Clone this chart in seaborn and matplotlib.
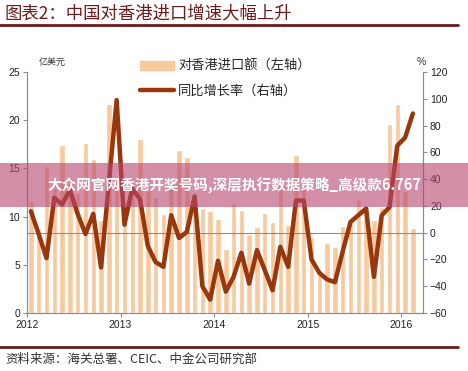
import matplotlib
matplotlib.use('Agg')
import matplotlib.pyplot as plt
import pandas as pd
import seaborn as sns
from matplotlib.lines import Line2D
from matplotlib.patches import Patch, Rectangle

# Monthly data, Jan 2012 - Feb 2016
month_idx = list(range(50))
imports = [11.6, 8.8, 15.2, 13.0, 17.4, 13.5, 12.5, 17.6, 16.0, 9.6, 21.7, 14.0,
           11.0, 12.5, 18.0, 12.8, 12.0, 10.3, 13.5, 16.9, 16.2, 12.5, 10.9, 10.6,
           9.7, 6.6, 11.4, 10.7, 8.2, 8.9, 10.4, 9.4, 13.5, 9.1, 16.4, 13.0,
           7.9, 4.5, 7.3, 6.8, 9.0, 9.4, 11.8, 10.9, 9.6, 11.0, 19.6, 21.7,
           12.7, 8.8]
growth = [16, -1, -19, 26, 21, 32, 14, -1, 14, -26, 37, 99,
          6, 33, 25, -10, -22, -25.5, 13, -4, 0.5, 27, -40, -50,
          -21, -44, -33, -15, -38, -13, -28, -43, -10.5, -25.5, 24, 24,
          -20, -30, -35, -37, -14, 8, 13, 18, -33, 13, 19, 65,
          71, 89]
year_labels = ['2012', '2013', '2014', '2015', '2016']

df = pd.DataFrame({'month': month_idx, 'imports': imports, 'growth': growth})

bar_color = '#F8C99C'
line_color = '#99360C'
grid_gray = '#8c8c8c'
dark_red = '#6e1a1a'

sns.set_style('ticks')
plt.rcParams['font.family'] = ['Liberation Sans', 'Noto Sans CJK SC']
cjk = ['Noto Sans CJK SC', 'DejaVu Sans']

fig = plt.figure(figsize=(4.68, 3.71), dpi=100)
ax = fig.add_axes([27 / 468, 1 - 313 / 371, 396 / 468, 241 / 371])

sns.barplot(df, x='month', y='imports', color=bar_color, saturation=1,
            width=0.7, ax=ax)
ax2 = ax.twinx()
ax2.axhline(0, color=grid_gray, lw=0.8, zorder=1)
sns.lineplot(df, x='month', y='growth', color=line_color, lw=3.2, ax=ax2,
             zorder=3)

ax.set_xlim(-0.5, 50.3)
ax.set_ylim(0, 25)
ax.set_yticks(range(0, 26, 5))
ax2.set_ylim(-60, 120)
ax2.set_yticks(range(-60, 121, 20))
ax.set_xticks([-0.5 + 12 * k for k in range(5)])
ax.set_xticklabels(year_labels)
ax.set(xlabel='', ylabel='')
ax2.set(xlabel='', ylabel='')

for a in (ax, ax2):
    a.spines['top'].set_visible(False)
    for s in ('left', 'right', 'bottom'):
        a.spines[s].set_color(grid_gray)
        a.spines[s].set_linewidth(0.8)
    a.tick_params(labelsize=7.5, length=3, width=0.8, color=grid_gray,
                  labelcolor='#222222', pad=2)

ax.text(0.03, 1.02, '亿美元', transform=ax.transAxes, fontsize=6.5,
        family=cjk, color='#333333', va='bottom')
ax2.text(0.985, 1.02, '%', transform=ax2.transAxes, fontsize=7.5,
         color='#333333', va='bottom')

handles = [Patch(color=bar_color), Line2D([], [], color=line_color, lw=3.2)]
labels = ['对香港进口额（左轴）', '同比增长率（右轴）']
fig.legend(handles, labels, loc='upper left',
           bbox_to_anchor=(128 / 468, 1 - 48 / 371), frameon=False,
           handlelength=2.6, labelspacing=0.9, handletextpad=0.3,
           prop={'family': cjk, 'size': 9.5})

# Title and source
fig.text(5 / 468, 1 - 13 / 371, '图表2：中国对香港进口增速大幅上升', fontsize=12.5,
         color=dark_red, family=cjk, va='center')
fig.add_artist(Line2D([0, 458 / 468], [1 - 25 / 371] * 2, color=dark_red, lw=2))
fig.add_artist(Line2D([0, 458 / 468], [1 - 347 / 371] * 2, color=dark_red, lw=2))
fig.text(5 / 468, 1 - 359 / 371, '资料来源：海关总署、CEIC、中金公司研究部',
         fontsize=9, color='#333333', family=cjk, va='center')

# Overlay banner
fig.add_artist(Rectangle((0, 1 - 207 / 371), 1, 44 / 371, transform=fig.transFigure,
                         color='#b8456e', alpha=0.6, lw=0, zorder=10))
fig.text(0.5, 1 - 186 / 371, '大众网官网香港开奖号码,深层执行数据策略_高级款6.767',
         fontsize=10.5, color='white', fontweight='bold', family=cjk,
         ha='center', va='center', zorder=11)

fig.savefig('out.png', dpi=100)
